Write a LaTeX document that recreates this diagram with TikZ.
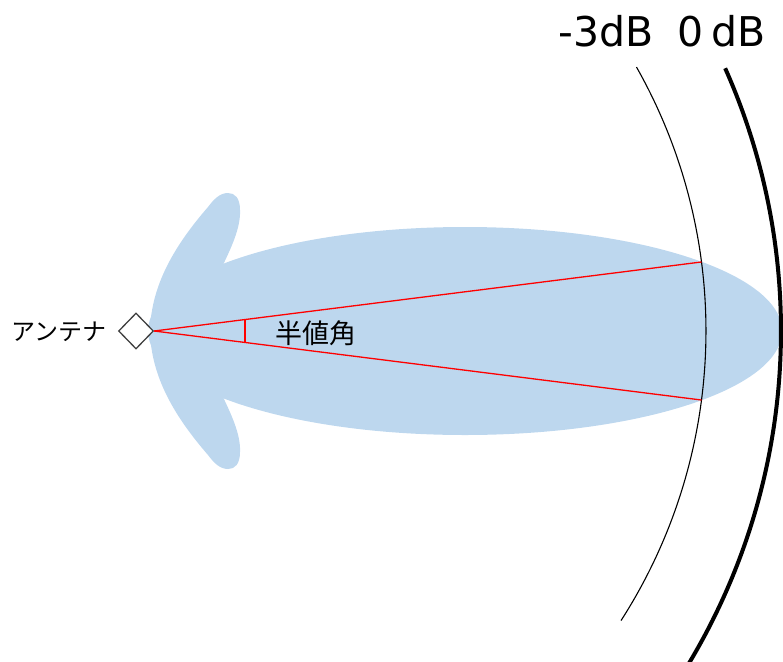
\documentclass[tikz,border=0pt]{standalone}
\usepackage{fontspec}
\setmainfont{DejaVu Sans}
\newfontfamily\cjk{Noto Sans CJK JP}
\usetikzlibrary{shapes.geometric,calc}
\definecolor{lobeblue}{HTML}{BDD7EE}
\definecolor{antgray}{HTML}{404040}
\tikzset{
  lobe/.style={fill=lobeblue, draw=none},
  redline/.style={draw=red, line width=1.3pt},
  thinarc/.style={draw=black, line width=1.1pt},
  thickarc/.style={draw=black, line width=4pt},
  dblabel/.style={font=\fontsize{41}{46}\selectfont, inner sep=0pt},
  antennabox/.style={diamond, draw=antgray, fill=white, line width=1.3pt, inner sep=0pt, minimum width=35pt, minimum height=36pt},
}
\begin{document}
\begin{tikzpicture}[x=1pt,y=1pt]
\useasboundingbox (0,0) rectangle (783,-661);
% main lobe
\fill[lobe] (465,-331) ellipse [x radius=317, y radius=104];
% side lobes (upper and mirrored lower)
\foreach \s in {1,-1}{
  \begin{scope}[yshift=-331pt, yscale=\s]
    \fill[lobe] (223,66) .. controls (230,81) and (241,103) .. (240,121)
      .. controls (240,133) and (235,138) .. (228,138)
      .. controls (220,138) and (214,132) .. (208,124)
      .. controls (175,86) and (151,46) .. (150,0)
      -- (200,0) -- cycle;
  \end{scope}
}
% antenna
\node[antennabox] (ant) at (136,-331) {};
\node[font=\cjk\fontsize{24}{28}\selectfont, anchor=center, inner sep=0pt] (antlabel) at (59,-332) {アンテナ};
% arcs
\coordinate (c3) at (170,-331);
\coordinate (c0) at (135,-331);
\draw[thinarc] (c3) ++(29.5:536) arc[start angle=29.5, end angle=-32.7, radius=536];
\draw[thickarc] (c0) ++(24.0:646) arc[start angle=24.0, end angle=-31.5, radius=646];
% half-power beam width lines
\coordinate (up) at ($(c3)+(7.4:536)$);
\coordinate (dn) at ($(c3)+(-7.4:536)$);
\draw[redline] (ant.east) -- (up);
\draw[redline] (ant.east) -- (dn);
\coordinate (mu) at (245,-319.4);
\coordinate (md) at (245,-342.6);
\draw[redline] (mu) -- (md);
\node[font=\cjk\fontsize{27}{32}\selectfont, inner sep=0pt] (hpbw) at (316,-333) {半値角};
% labels
\node[dblabel, anchor=base west] (m3) at (558,-47) {-3dB};
\node[dblabel, anchor=base west] (z0) at (677,-47) {0\hspace{0.2em}dB};
\end{tikzpicture}
\end{document}
